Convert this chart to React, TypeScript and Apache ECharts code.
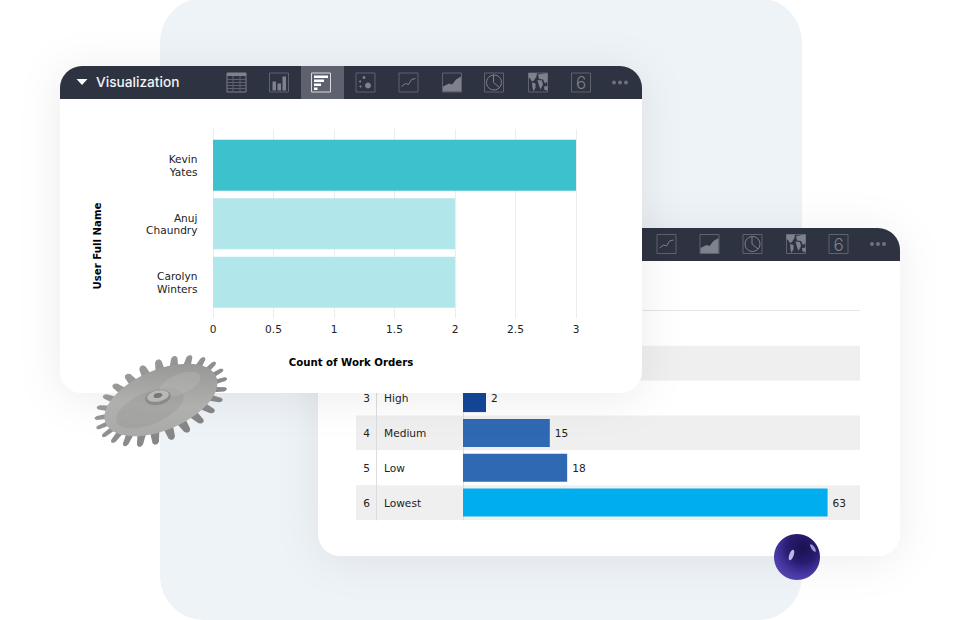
import React, { useEffect, useRef } from 'react';
import * as echarts from 'echarts';

// front card: work orders per user
const userNames = ['Kevin\nYates', 'Anuj\nChaundry', 'Carolyn\nWinters'];
const workOrderCounts = [3, 2, 2];
const workOrderColors = ['#3dc1cd', '#b1e7ea', '#b1e7ea'];

// back card: issues per priority (rows 1 and 2 sit behind the front card)
const priorityRanks = ['', '', '3', '4', '5', '6'];
const priorityNames = ['', '', 'High', 'Medium', 'Low', 'Lowest'];
const priorityCounts = [null, null, 2, 15, 18, 63];
const priorityColors = ['#14479a', '#14479a', '#14479a', '#2f68b3', '#2f68b3', '#00aeef'];

const FONT = '"DejaVu Sans", Verdana, sans-serif';
const HEADER = '#2e3342';
const ICON = '#5f636f';
const ICON_FILL = '#7f828d';
const TEXT = '#222222';
const LABEL_SIZE = 10.6;

const Z_PANEL = 1;
const Z_BACK_CARD = 2;
const Z_BACK_AXIS = 3;
const Z_BACK_BAR = 4;
const Z_FRONT_CARD = 10;
const Z_FRONT_AXIS = 11;
const Z_FRONT_BAR = 12;
const Z_DECOR = 20;

const boxEl = (cx: number, cy: number, z: number, color = ICON) => ({
  type: 'rect', z, silent: true,
  shape: { x: cx - 9.5, y: cy - 9.5, width: 19, height: 19 },
  style: { fill: 'none', stroke: color, lineWidth: 1 },
});

const solid = (x: number, y: number, w: number, h: number, z: number, color = ICON_FILL) => ({
  type: 'rect', z, silent: true,
  shape: { x, y, width: w, height: h },
  style: { fill: color },
});

const poly = (points: number[][], z: number, color = ICON_FILL) => ({
  type: 'polygon', z, silent: true, shape: { points }, style: { fill: color },
});

const stroke = (points: number[][], z: number, color = ICON_FILL) => ({
  type: 'polyline', z, silent: true, shape: { points }, style: { fill: 'none', stroke: color, lineWidth: 1 },
});

const dot = (cx: number, cy: number, r: number, z: number, color = ICON_FILL) => ({
  type: 'circle', z, silent: true, shape: { cx, cy, r }, style: { fill: color },
});

const tableIcon = (c: number, y: number, z: number) => {
  const els: any[] = [solid(c - 9.5, y - 9.5, 19, 3, z), boxEl(c, y, z, ICON_FILL)];
  [-3, 0, 3, 6].forEach((d) => els.push(stroke([[c - 9.5, y + d], [c + 9.5, y + d]], z, ICON)));
  [-3.5, 3.5].forEach((d) => els.push(stroke([[c + d, y - 6.5], [c + d, y + 9.5]], z, ICON)));
  return els;
};

const barIcon = (c: number, y: number, z: number) => [
  boxEl(c, y, z),
  solid(c - 6.5, y - 1, 3.5, 9, z),
  solid(c - 1.5, y + 1, 3.5, 7, z),
  solid(c + 3.5, y - 6, 3.5, 14, z),
];

const hbarIcon = (c: number, y: number, z: number) => [
  boxEl(c, y, z, '#d8d9dc'),
  solid(c - 7, y - 7, 14, 2.5, z, '#ffffff'),
  solid(c - 7, y - 3, 10, 2.5, z, '#ffffff'),
  solid(c - 7, y + 1, 7, 2.5, z, '#ffffff'),
  solid(c - 7, y + 5, 3.5, 2.5, z, '#ffffff'),
];

const scatterIcon = (c: number, y: number, z: number) => [
  boxEl(c, y, z),
  dot(c - 5.5, y - 1, 1, z),
  dot(c - 1.5, y - 5, 1.4, z),
  dot(c - 5, y + 4, 1, z),
  dot(c + 2.5, y + 3, 3, z),
];

const lineIcon = (c: number, y: number, z: number) => [
  boxEl(c, y, z),
  stroke([[c - 7, y + 4], [c - 3, y + 1], [c, y + 2], [c + 3, y - 3], [c + 7, y - 4]], z),
];

const areaIcon = (c: number, y: number, z: number) => [
  boxEl(c, y, z),
  poly([[c - 9, y + 9], [c - 9, y + 4], [c - 3, y + 1], [c, y + 2], [c + 4, y - 3], [c + 9, y - 6], [c + 9, y + 9]], z),
];

const pieIcon = (c: number, y: number, z: number) => [
  boxEl(c, y, z),
  { type: 'circle', z, silent: true, shape: { cx: c, cy: y, r: 7.5 }, style: { fill: 'none', stroke: ICON_FILL, lineWidth: 1 } },
  stroke([[c - 0.5, y - 7.5], [c - 0.5, y], [c + 5.5, y + 5]], z),
];

const mapIcon = (c: number, y: number, z: number) => [
  boxEl(c, y, z),
  poly([[c - 9.5, y - 9.5], [c - 1, y - 9.5], [c - 1.5, y - 6], [c - 4, y - 2], [c - 6, y - 1], [c - 8, y - 4], [c - 9.5, y - 5]], z),
  poly([[c - 6, y], [c - 2.5, y + 1], [c - 2.5, y + 5], [c - 4.5, y + 9], [c - 5.5, y + 5]], z),
  poly([[c, y - 8], [c + 9.5, y - 9.5], [c + 9.5, y - 1], [c + 7, y + 1], [c + 5, y - 3], [c + 1, y - 3.5]], z),
  poly([[c - 0.5, y - 2.5], [c + 4, y - 2], [c + 5, y + 2], [c + 2.5, y + 7], [c + 1, y + 3]], z),
  poly([[c + 6, y + 4], [c + 9.5, y + 3.5], [c + 9.5, y + 8], [c + 6.5, y + 7.5]], z),
];

const sixIcon = (c: number, y: number, z: number) => [
  boxEl(c, y, z),
  {
    type: 'text', z, silent: true, x: c, y: y + 0.5,
    style: { text: '6', fill: '#7f828d', fontSize: 17, fontWeight: 300, fontFamily: 'Inter, sans-serif', align: 'center', verticalAlign: 'middle' },
  },
];

const moreIcon = (c: number, y: number, z: number) => [
  dot(c - 6, y, 2, z, '#6e717c'),
  dot(c, y, 2, z, '#6e717c'),
  dot(c + 6, y, 2, z, '#6e717c'),
];

// outline of the tilted gear, teeth pushed out of an ellipse
const gearOutline = (cx: number, cy: number, a: number, b: number, tilt: number, teeth: number) => {
  const pts: number[][] = [];
  const steps = [
    [0, -1],
    [0.1, -1],
    [0.3, 0.75],
    [0.42, 1],
    [0.58, 1],
    [0.7, 0.75],
    [0.9, -1],
  ];
  for (let i = 0; i < teeth; i++) {
    steps.forEach(([f, out]) => {
      const t = ((i + f) / teeth) * Math.PI * 2;
      const lx = (a + out * 8) * Math.cos(t);
      const ly = (b + out * 8) * Math.sin(t);
      pts.push([cx + lx * Math.cos(tilt) + ly * Math.sin(tilt), cy - lx * Math.sin(tilt) + ly * Math.cos(tilt)]);
    });
  }
  return pts;
};

const ellipseEl = (x: number, y: number, rx: number, ry: number, rotation: number, z: number, style: any) => ({
  type: 'ellipse', z, silent: true, x, y, rotation,
  shape: { cx: 0, cy: 0, rx, ry },
  style,
});

const headerIcons = (xs: number[], makers: any[], y: number, z: number) =>
  xs.flatMap((c, i) => makers[i](c, y, z));

const buildGraphic = () => {
  const gearTilt = 0.4;
  const els: any[] = [
    // page panel
    {
      type: 'rect', z: Z_PANEL, silent: true,
      shape: { x: 160, y: -2, width: 642, height: 622, r: 44 },
      style: { fill: '#eef3f7' },
    },
    // back card
    {
      type: 'rect', z: Z_BACK_CARD, silent: true,
      shape: { x: 318, y: 228, width: 582, height: 328, r: 22 },
      style: { fill: '#ffffff', shadowBlur: 44, shadowColor: 'rgba(0,0,0,0.07)', shadowOffsetY: 4 },
    },
    {
      type: 'rect', z: Z_BACK_CARD, silent: true,
      shape: { x: 318, y: 228, width: 582, height: 33, r: [22, 22, 0, 0] },
      style: { fill: HEADER },
    },
    {
      type: 'line', z: Z_BACK_CARD, silent: true,
      shape: { x1: 356, y1: 310.5, x2: 860, y2: 310.5 },
      style: { stroke: '#e6e6e6', lineWidth: 1 },
    },
    ...headerIcons(
      [666.5, 709.5, 752.5, 796, 838.5, 878],
      [lineIcon, areaIcon, pieIcon, mapIcon, sixIcon, moreIcon],
      244,
      Z_BACK_CARD,
    ),
    // front card
    {
      type: 'rect', z: Z_FRONT_CARD, silent: true,
      shape: { x: 60, y: 66, width: 582, height: 327, r: 22 },
      style: { fill: '#ffffff', shadowBlur: 44, shadowColor: 'rgba(0,0,0,0.08)', shadowOffsetY: 4 },
    },
    {
      type: 'rect', z: Z_FRONT_CARD, silent: true,
      shape: { x: 60, y: 66, width: 582, height: 33, r: [22, 22, 0, 0] },
      style: { fill: HEADER },
    },
    solid(301, 66, 43, 33, Z_FRONT_CARD, '#5e626e'),
    poly([[76.5, 79], [87.5, 79], [82, 85]], Z_FRONT_CARD, '#ffffff'),
    {
      type: 'text', z: Z_FRONT_CARD, silent: true, x: 96, y: 82,
      style: { text: 'Visualization', fill: '#f2f3f5', fontSize: 13.7, fontWeight: 500, fontFamily: 'Inter, sans-serif', align: 'left', verticalAlign: 'middle' },
    },
    ...headerIcons(
      [236.5, 279, 321, 365.5, 408.5, 452, 494, 538, 581, 620],
      [tableIcon, barIcon, hbarIcon, scatterIcon, lineIcon, areaIcon, pieIcon, mapIcon, sixIcon, moreIcon],
      82.5,
      Z_FRONT_CARD,
    ),
    // axis titles of the front chart
    {
      type: 'text', z: Z_FRONT_AXIS, silent: true, x: 351, y: 362,
      style: { text: 'Count of Work Orders', fill: '#000000', fontSize: 10.2, fontWeight: 'bold', fontFamily: FONT, align: 'center', verticalAlign: 'middle' },
    },
    {
      type: 'text', z: Z_FRONT_AXIS, silent: true, x: 97, y: 246, rotation: Math.PI / 2,
      style: { text: 'User Full Name', fill: '#000000', fontSize: 10.2, fontWeight: 'bold', fontFamily: FONT, align: 'center', verticalAlign: 'middle' },
    },
    // gear
    {
      type: 'polygon', z: Z_DECOR, silent: true,
      shape: { points: gearOutline(161, 401, 62, 32, gearTilt, 25) },
      style: {
        fill: {
          type: 'linear', x: 0, y: 0, x2: 1, y2: 1,
          colorStops: [
            { offset: 0, color: '#a2a2a2' },
            { offset: 0.5, color: '#8f8f8f' },
            { offset: 1, color: '#7a7a7a' },
          ],
        },
      },
    },
    ellipseEl(161, 400, 60, 30, gearTilt, Z_DECOR, {
      fill: {
        type: 'linear', x: 0, y: 1, x2: 1, y2: 0,
        colorStops: [
          { offset: 0, color: '#a6a6a6' },
          { offset: 0.45, color: '#b0b0ae' },
          { offset: 1, color: '#8f8f8f' },
        ],
      },
    }),
    ellipseEl(150, 408, 36, 16, gearTilt, Z_DECOR, { fill: 'rgba(130,130,130,0.22)' }),
    ellipseEl(180, 384, 22, 10, gearTilt, Z_DECOR, { fill: 'rgba(200,200,200,0.25)' }),
    ellipseEl(158, 397.5, 13, 7.5, gearTilt / 2, Z_DECOR, { fill: '#8b8b8b' }),
    ellipseEl(158, 396, 11, 5.5, gearTilt / 2, Z_DECOR, { fill: '#b8b8b6' }),
    ellipseEl(158, 395.5, 4.5, 2.5, gearTilt / 2, Z_DECOR, { fill: '#777777' }),
    // sphere
    {
      type: 'circle', z: Z_DECOR, silent: true,
      shape: { cx: 797, cy: 557, r: 23 },
      style: {
        fill: {
          type: 'radial', x: 0.62, y: 0.3, r: 0.78,
          colorStops: [
            { offset: 0, color: '#1a1150' },
            { offset: 0.42, color: '#281c70' },
            { offset: 0.72, color: '#4435a0' },
            { offset: 1, color: '#5749ae' },
          ],
        },
      },
    },
    ellipseEl(791.5, 555, 2.2, 5.5, -0.35, Z_DECOR, { fill: 'rgba(230,220,255,0.8)' }),
    ellipseEl(813, 548, 1.6, 4.5, 0.6, Z_DECOR, { fill: 'rgba(215,205,255,0.7)' }),
  ];
  return els;
};

const App: React.FC = () => {
  const chartRef = useRef<HTMLDivElement>(null);

  useEffect(() => {
    if (!chartRef.current) return;
    const chart = echarts.init(chartRef.current, undefined, { renderer: 'svg' });

    const rowTop = 311;
    const rowsHeight = 209;
    const rowBands = { show: true, interval: 0, areaStyle: { color: ['#ffffff', '#efefef'] } };

    const options: any = {
      animation: false,
      backgroundColor: '#ffffff',
      textStyle: { fontFamily: FONT },
      graphic: { elements: buildGraphic() },
      grid: [
        // front chart: frame with the value axis, then the bars inside it
        { left: 213, top: 129, width: 363, height: 189 },
        { left: 213, top: 136, width: 363, height: 175.5 },
        // back table: one grid per column
        { left: 356, top: rowTop, width: 20, height: rowsHeight },
        { left: 376, top: rowTop, width: 87, height: rowsHeight },
        { left: 463, top: rowTop, width: 397, height: rowsHeight },
      ],
      xAxis: [
        {
          gridIndex: 0, type: 'value', min: 0, max: 3, interval: 0.5, z: Z_FRONT_AXIS,
          axisLine: { show: false },
          axisTick: { show: false },
          axisLabel: { color: TEXT, fontSize: LABEL_SIZE, margin: 5 },
          splitLine: { lineStyle: { color: '#ececec', width: 1 } },
        },
        { gridIndex: 1, type: 'value', min: 0, max: 3, show: false },
        { gridIndex: 2, type: 'value', show: false },
        { gridIndex: 3, type: 'value', show: false },
        { gridIndex: 4, type: 'value', min: 0, max: 68.6, show: false },
      ],
      yAxis: [
        { gridIndex: 0, type: 'value', show: false },
        {
          gridIndex: 1, type: 'category', inverse: true, data: userNames, z: Z_FRONT_AXIS,
          axisLine: { show: false },
          axisTick: { show: false },
          axisLabel: { color: TEXT, fontSize: LABEL_SIZE, margin: 15.5, lineHeight: 12.5, align: 'right' },
        },
        {
          gridIndex: 2, type: 'category', inverse: true, data: priorityRanks, position: 'right', z: Z_BACK_AXIS,
          axisLine: { show: true, onZero: false, lineStyle: { color: '#dddddd' } },
          axisTick: { show: false },
          axisLabel: { inside: true, interval: 0, color: TEXT, fontSize: LABEL_SIZE, margin: 6 },
          splitArea: rowBands,
        },
        {
          gridIndex: 3, type: 'category', inverse: true, data: priorityNames, z: Z_BACK_AXIS,
          axisLine: { show: false },
          axisTick: { show: false },
          axisLabel: { inside: true, interval: 0, color: TEXT, fontSize: LABEL_SIZE, margin: 8 },
          splitArea: rowBands,
        },
        {
          gridIndex: 4, type: 'category', inverse: true, data: priorityNames, z: Z_BACK_AXIS,
          axisLine: { show: true, lineStyle: { color: '#dddddd' } },
          axisTick: { show: false },
          axisLabel: { show: false },
          splitArea: rowBands,
        },
      ],
      series: [
        {
          type: 'bar', xAxisIndex: 1, yAxisIndex: 1, barWidth: 51, z: Z_FRONT_BAR, silent: true,
          data: workOrderCounts.map((value, i) => ({ value, itemStyle: { color: workOrderColors[i] } })),
        },
        {
          type: 'bar', xAxisIndex: 4, yAxisIndex: 4, barWidth: 28, barMinHeight: 23, z: Z_BACK_BAR, silent: true,
          label: { show: true, position: 'right', distance: 5, color: TEXT, fontSize: LABEL_SIZE },
          data: priorityCounts.map((value, i) => ({ value, itemStyle: { color: priorityColors[i] } })),
        },
      ],
    };
    chart.setOption(options);

    return () => {
      chart.dispose();
    };
  }, []);

  return <div ref={chartRef} style={{ position: 'fixed', left: 0, top: 0, width: 960, height: 620 }} />;
};

export default App;
